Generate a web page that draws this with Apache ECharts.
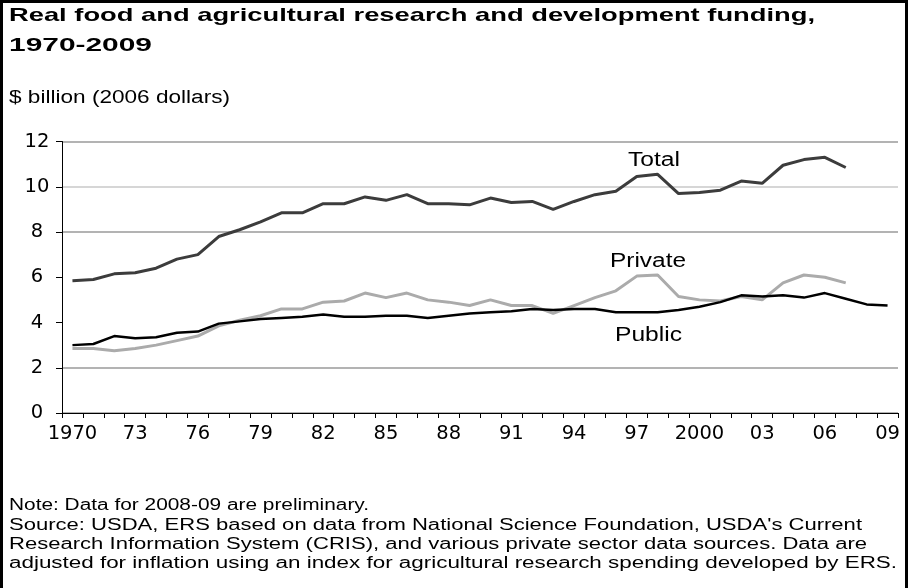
<!DOCTYPE html>
<html><head><meta charset="utf-8">
<script src="https://cdn.jsdelivr.net/npm/echarts@6/dist/echarts.min.js"></script>
<style>html,body{margin:0;padding:0;background:#fff}#c{width:910px;height:588px}</style>
</head><body><div id="c"></div>
<script>
const years = ['1970','1971','1972','1973','1974','1975','1976','1977','1978','1979',
  '1980','1981','1982','1983','1984','1985','1986','1987','1988','1989',
  '1990','1991','1992','1993','1994','1995','1996','1997','1998','1999',
  '2000','2001','2002','2003','2004','2005','2006','2007','2008','2009'];
const tickLabels = ['1970','73','76','79','82','85','88','91','94','97','2000','03','06','09'];
const yTicks = [0, 2, 4, 6, 8, 10, 12];
const total = [5.85,5.9,6.15,6.2,6.4,6.8,7.0,7.8,8.1,8.45,
  8.85,8.85,9.25,9.25,9.55,9.4,9.65,9.25,9.25,9.2,
  9.5,9.3,9.35,9.0,9.35,9.65,9.8,10.45,10.55,9.7,
  9.75,9.85,10.25,10.15,10.95,11.2,11.3,10.85];
const privateR = [2.85,2.85,2.75,2.85,3.0,3.2,3.4,3.85,4.1,4.3,
  4.6,4.6,4.9,4.95,5.3,5.1,5.3,5.0,4.9,4.75,
  5.0,4.75,4.75,4.4,4.75,5.1,5.4,6.05,6.1,5.15,
  5.0,4.95,5.15,5.0,5.75,6.1,6.0,5.75];
const publicR = [3.0,3.05,3.4,3.3,3.35,3.55,3.6,3.95,4.05,4.15,
  4.2,4.25,4.35,4.25,4.25,4.3,4.3,4.2,4.3,4.4,
  4.45,4.5,4.6,4.55,4.6,4.6,4.45,4.45,4.45,4.55,
  4.7,4.9,5.2,5.15,5.2,5.1,5.3,5.05,4.8,4.75];
const titleLines = ['Real food and agricultural research and development funding,', '1970-2009'];
const unitText = '$ billion (2006 dollars)';
const noteLines = ['Note: Data for 2008-09 are preliminary.',
  "Source: USDA, ERS based on data from National Science Foundation, USDA's Current",
  'Research Information System (CRIS), and various private sector data sources. Data are',
  'adjusted for inflation using an index for agricultural research spending developed by ERS.'];

const FONT = '"Liberation Sans", Arial, sans-serif';
const chart = echarts.init(document.getElementById('c'), null, {renderer: 'canvas'});

const mctx = document.createElement('canvas').getContext('2d');
function measure(s, size, weight) {
  mctx.font = (weight || 'normal') + ' ' + size + 'px ' + FONT;
  return mctx.measureText(s).width;
}
// text stretched horizontally so that it spans from x to right
function fitTxt(x, y, s, size, weight, right) {
  const sx = (right - x) / measure(s, size, weight);
  return {type: 'text', x: x, y: y, scaleX: sx, scaleY: 1, originX: 0, originY: 0, silent: true,
    style: {text: s, fontSize: size, fontWeight: weight || 'normal', fontFamily: FONT, fill: '#000', textVerticalAlign: 'top'}};
}
const graphics = [
  {type: 'rect', shape: {x: 1.5, y: 1.5, width: 905, height: 600}, style: {fill: 'none', stroke: '#000', lineWidth: 3}, silent: true}
];
graphics.push(fitTxt(9, 6, titleLines[0], 18.5, 'bold', 815));
graphics.push(fitTxt(9, 36, titleLines[1], 18.5, 'bold', 152));
graphics.push(fitTxt(9, 89, unitText, 18, 'normal', 230));
const noteRights = [369, 862, 867, 897];
noteLines.forEach((s, i) => graphics.push(fitTxt(9, 498 + i * 19.2, s, 16, 'normal', noteRights[i])));
graphics.push(fitTxt(628, 151, 'Total', 19.5, 'normal', 680));
graphics.push(fitTxt(610, 252, 'Private', 19.5, 'normal', 686));
graphics.push(fitTxt(615, 326, 'Public', 19.5, 'normal', 682));

const splitColors = yTicks.map(v => (v === 4 || v === 6) ? 'rgba(0,0,0,0)' : (v === 10 ? '#c8c8c8' : '#9a9a9a'));

chart.setOption({
  animation: false,
  backgroundColor: '#fff',
  grid: {left: 62, right: 12, top: 141.5, bottom: 175},
  xAxis: {
    type: 'category', data: years, boundaryGap: true,
    axisLine: {lineStyle: {color: '#000', width: 1}},
    axisTick: {show: true, interval: 0, length: 5, lineStyle: {color: '#000'}},
    axisLabel: {interval: 2, color: '#000', fontSize: 19.5, fontFamily: '"DejaVu Sans", sans-serif', margin: 11,
      formatter: (v, i) => tickLabels[Math.round(i / 3)]},
    splitLine: {show: false}
  },
  yAxis: {
    type: 'value', min: 0, max: 12, interval: 2,
    axisLine: {show: true, lineStyle: {color: '#000', width: 1}},
    axisTick: {show: true, length: 6, lineStyle: {color: '#000'}},
    axisLabel: {color: '#000', fontSize: 19.5, fontFamily: '"DejaVu Sans", sans-serif', margin: 25, align: 'center'},
    splitLine: {show: true, lineStyle: {color: splitColors, width: 1.5}}
  },
  series: [
    {name: 'Total', type: 'line', data: total, symbol: 'none', lineStyle: {color: '#3c3c3c', width: 3}, z: 3},
    {name: 'Private', type: 'line', data: privateR, symbol: 'none', lineStyle: {color: '#ababab', width: 3}, z: 2},
    {name: 'Public', type: 'line', data: publicR, symbol: 'none', lineStyle: {color: '#000', width: 2.5}, z: 4}
  ],
  graphic: graphics
});
</script></body></html>
